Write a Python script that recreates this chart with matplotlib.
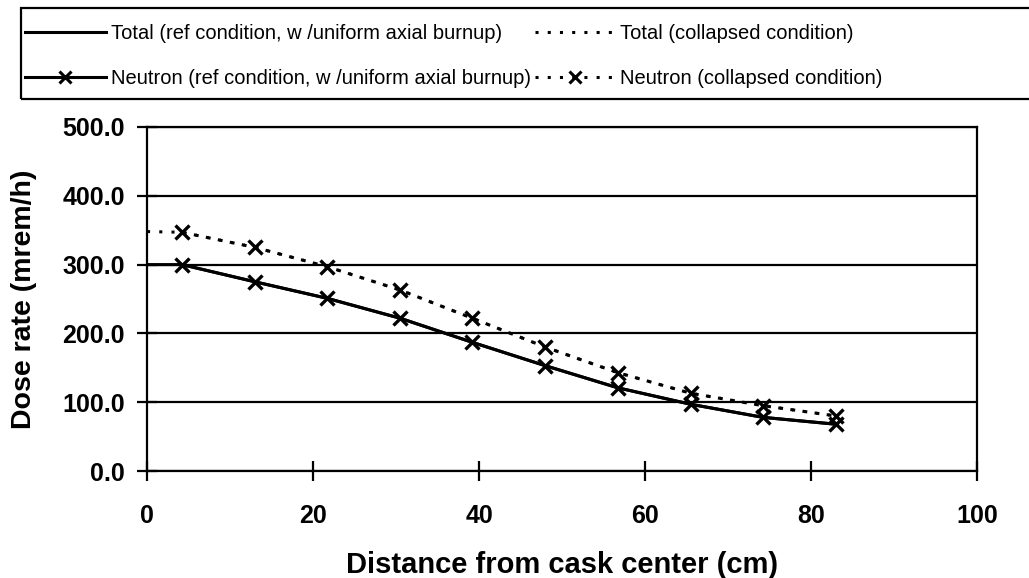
import matplotlib.pyplot as plt
from matplotlib.patches import Rectangle
from matplotlib.lines import Line2D

# distance from cask center (cm) and dose rates (mrem/h)
dist_total = [0.0, 4.2, 13.0, 21.7, 30.5, 39.2, 48.0, 56.7, 65.5, 74.2, 83.0]
total_ref = [300, 300, 275, 251, 222, 187, 153, 121, 97, 78, 68]
total_collapsed = [348, 347, 325, 297, 263, 222, 180, 143, 113, 95, 80]

dist_neutron = [4.2, 13.0, 21.7, 30.5, 39.2, 48.0, 56.7, 65.5, 74.2, 83.0]
neutron_ref = [300, 275, 251, 222, 187, 153, 121, 97, 78, 68]
neutron_collapsed = [347, 325, 297, 263, 222, 180, 143, 113, 95, 80]

lbl_total_ref = 'Total (ref condition, w /uniform axial burnup)'
lbl_total_col = 'Total (collapsed condition)'
lbl_neut_ref = 'Neutron (ref condition, w /uniform axial burnup)'
lbl_neut_col = 'Neutron (collapsed condition)'

plt.rcParams['font.family'] = ['Liberation Sans', 'DejaVu Sans']

fig = plt.figure(figsize=(10.29, 5.78), dpi=100)
ax = fig.add_axes([0.1429, 0.1851, 0.8066, 0.5952])

lw = 2.2
dots = (0, (1, 3))
ax.plot(dist_total, total_ref, color='black', lw=lw, ls='-')
ax.plot(dist_total, total_collapsed, color='black', lw=lw, ls=dots)
ax.plot(dist_neutron, neutron_ref, color='black', lw=lw, ls='-',
        marker='x', ms=10, mew=2.4)
ax.plot(dist_neutron, neutron_collapsed, color='black', lw=lw, ls=dots,
        marker='x', ms=10, mew=2.4)

ax.set_xlim(0, 100)
ax.set_ylim(0, 500)
ax.set_xticks(range(0, 101, 20))
ax.set_yticks(range(0, 501, 100))
ax.set_yticklabels([f'{v:.1f}' for v in range(0, 501, 100)])
ax.yaxis.grid(True, color='black', lw=1.6)
ax.set_axisbelow(True)
for s in ax.spines.values():
    s.set_color('black')
    s.set_linewidth(1.6)
ax.tick_params(direction='inout', length=14, width=1.6, labelsize=18)
ax.tick_params(axis='x', pad=17)
ax.tick_params(axis='y', pad=9)
for t in ax.get_xticklabels() + ax.get_yticklabels():
    t.set_fontweight('bold')

ax.set_xlabel('Distance from cask center (cm)', fontsize=21, fontweight='bold', va='center')
ax.xaxis.set_label_coords(0.5, -0.273)
ax.set_ylabel('Dose rate (mrem/h)', fontsize=20.5, fontweight='bold', va='center')
ax.yaxis.set_label_coords(-0.148, 0.5)

# legend box across the top, open on the right
fig.patches.append(Rectangle((0.0204, 0.8287), 1.0, 0.1574, transform=fig.transFigure,
                             fill=False, edgecolor='black', lw=1.6))
h_total_ref = Line2D([], [], color='black', lw=lw, ls='-')
h_total_col = Line2D([], [], color='black', lw=lw, ls=dots)
h_neut_ref = Line2D([], [], color='black', lw=lw, ls='-', marker='x', ms=9, mew=2.2)
h_neut_col = Line2D([], [], color='black', lw=lw, ls=dots, marker='x', ms=9, mew=2.2)
fig.legend([h_total_ref, h_neut_ref, h_total_col, h_neut_col],
           [lbl_total_ref, lbl_neut_ref, lbl_total_col, lbl_neut_col],
           ncol=2, loc='upper left', bbox_to_anchor=(25 / 1029, 1 - 24 / 578),
           frameon=False, handlelength=4.0, handletextpad=0.25, columnspacing=0.2,
           labelspacing=1.3, borderpad=0, borderaxespad=0, fontsize=14.5)

fig.savefig('out.png', dpi=100)
